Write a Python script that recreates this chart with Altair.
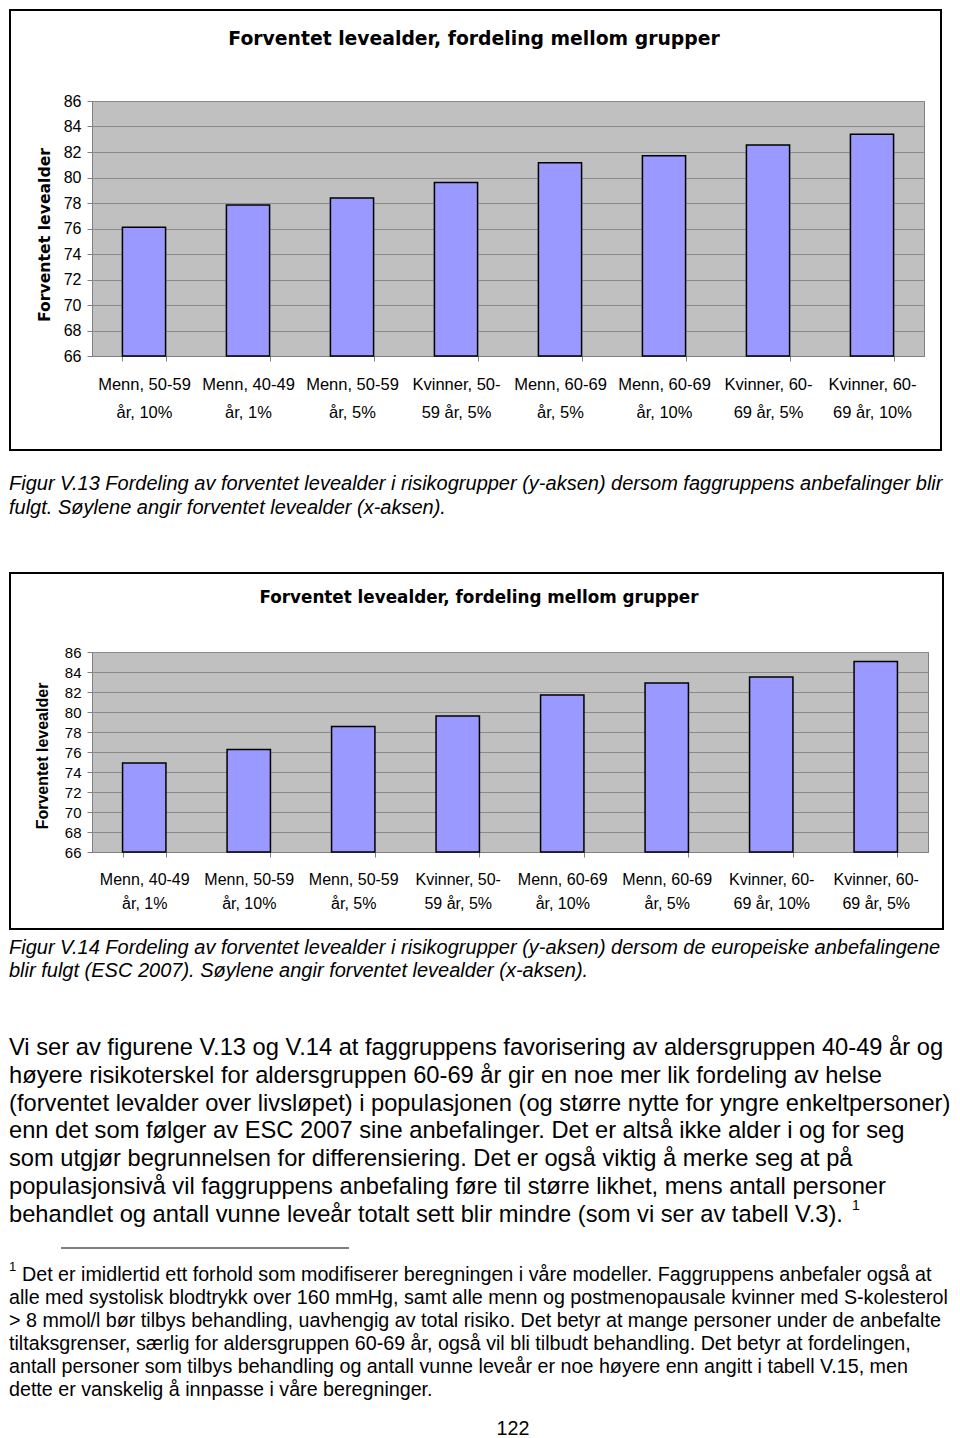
import altair as alt
import pandas as pd

# ---------------- data ----------------
cats1 = ["Menn, 50-59|år, 10%", "Menn, 40-49|år, 1%", "Menn, 50-59|år, 5%", "Kvinner, 50-|59 år, 5%",
         "Menn, 60-69|år, 5%", "Menn, 60-69|år, 10%", "Kvinner, 60-|69 år, 5%", "Kvinner, 60-|69 år, 10%"]
vals1 = [76.1, 77.85, 78.4, 79.6, 81.15, 81.7, 82.55, 83.4]

cats2 = ["Menn, 40-49|år, 1%", "Menn, 50-59|år, 10%", "Menn, 50-59|år, 5%", "Kvinner, 50-|59 år, 5%",
         "Menn, 60-69|år, 10%", "Menn, 60-69|år, 5%", "Kvinner, 60-|69 år, 10%", "Kvinner, 60-|69 år, 5%"]
vals2 = [74.9, 76.25, 78.55, 79.6, 81.7, 82.9, 83.5, 85.05]

y_ticks = [66, 68, 70, 72, 74, 76, 78, 80, 82, 84, 86]

chart_title = "Forventet levealder, fordeling mellom grupper"
y_title = "Forventet levealder"

caption1 = ["Figur V.13 Fordeling av forventet levealder i risikogrupper (y-aksen) dersom faggruppens anbefalinger blir",
            "fulgt. Søylene angir forventet levealder (x-aksen)."]
caption2 = ["Figur V.14 Fordeling av forventet levealder i risikogrupper (y-aksen) dersom de europeiske anbefalingene",
            "blir fulgt (ESC 2007). Søylene angir forventet levealder (x-aksen)."]
body = ["Vi ser av figurene V.13 og V.14 at faggruppens favorisering av aldersgruppen 40-49 år og",
        "høyere risikoterskel for aldersgruppen 60-69 år gir en noe mer lik fordeling av helse",
        "(forventet levalder over livsløpet) i populasjonen (og større nytte for yngre enkeltpersoner)",
        "enn det som følger av ESC 2007 sine anbefalinger. Det er altså ikke alder i og for seg",
        "som utgjør begrunnelsen for differensiering. Det er også viktig å merke seg at på",
        "populasjonsivå vil faggruppens anbefaling føre til større likhet, mens antall personer",
        "behandlet og antall vunne leveår totalt sett blir mindre (som vi ser av tabell V.3)."]
foot_first = ["Det er imidlertid ett forhold som modifiserer beregningen i våre modeller. Faggruppens anbefaler også at"]
foot_rest = ["alle med systolisk blodtrykk over 160 mmHg, samt alle menn og postmenopausale kvinner med S-kolesterol",
             "> 8 mmol/l bør tilbys behandling, uavhengig av total risiko. Det betyr at mange personer under de anbefalte",
             "tiltaksgrenser, særlig for aldersgruppen 60-69 år, også vil bli tilbudt behandling. Det betyr at fordelingen,",
             "antall personer som tilbys behandling og antall vunne leveår er noe høyere enn angitt i tabell V.15, men",
             "dette er vanskelig å innpasse i våre beregninger."]
note_mark = ["1"]
page_no = ["122"]

one = pd.DataFrame({"k": [0]})
GRID = "#8a8a8a"
AX = "#808080"


def text_block(lines, x, y, size, lh=20, font="Liberation Sans", style="normal", weight="normal",
               align="left", angle=0):
    df = pd.DataFrame({"t": ["\n".join(lines)]})
    return alt.Chart(df).mark_text(
        align=align, baseline="alphabetic", lineBreak="\n", lineHeight=lh, font=font,
        fontSize=size, fontStyle=style, fontWeight=weight, color="black", angle=angle
    ).encode(x=alt.value(x), y=alt.value(y), text="t:N")


def bars(cats, vals, xlab_size, xlab_lh, xlab_pad, ylab_size):
    df = pd.DataFrame({"gruppe": cats, "levealder": vals})
    return alt.Chart(df).mark_bar(fill="#9999FF", stroke="black", strokeWidth=1.5).encode(
        x=alt.X("gruppe:N", sort=cats,
                scale=alt.Scale(paddingInner=0.585, paddingOuter=0.2925),
                axis=alt.Axis(title=None, labelExpr="split(datum.label, '|')", labelAngle=0,
                              labelFont="Liberation Sans", labelFontSize=xlab_size, labelColor="black",
                              labelLineHeight=xlab_lh, labelPadding=xlab_pad, labelBaseline="top",
                              tickBand="extent", tickSize=5, tickColor=AX, domainColor=AX,
                              grid=False, labelLimit=300)),
        y=alt.Y("levealder:Q",
                scale=alt.Scale(domain=[66, 86], nice=False, zero=False),
                axis=alt.Axis(title=None, values=y_ticks, labelFont="Liberation Sans",
                              labelFontSize=ylab_size, labelColor="black", labelPadding=6,
                              tickSize=5, tickColor=AX, domainColor=AX, gridColor=GRID,
                              gridWidth=1)),
        y2=alt.datum(66),
    )


def frame(x1, x2, y1, y2):
    return alt.Chart(one).mark_rect(fillOpacity=0, stroke="black", strokeWidth=2).encode(
        x=alt.value(x1), x2=alt.value(x2), y=alt.value(y1), y2=alt.value(y2))


# ---------------- panel 1 (plot origin at page 91,100) ----------------
p1 = alt.layer(
    bars(cats1, vals1, 16.5, 28, 15, 16),
    frame(-82, 849, -91, 349),
    text_block([chart_title], 382, -56, 18.8, font="DejaVu Sans", weight="bold", align="center"),
    text_block([y_title], -42, 134, 15.7, font="DejaVu Sans", weight="bold", align="center", angle=270),
    text_block(caption1, -83, 389, 20, lh=24, style="italic"),
).properties(width=832, height=255)

# ---------------- panel 2 (plot origin at page 91,651) ----------------
rule = alt.Chart(one).mark_rule(color="black", strokeWidth=1).encode(
    x=alt.value(-31), x2=alt.value(257), y=alt.value(596))

p2 = alt.layer(
    bars(cats2, vals2, 16, 24, 14, 15),
    frame(-82, 851, -79, 277),
    text_block([chart_title], 387, -49, 16.8, font="DejaVu Sans", weight="bold", align="center"),
    text_block([y_title], -44, 104, 16, weight="bold", align="center", angle=270),
    text_block(caption2, -83, 302, 20, lh=23, style="italic"),
    text_block(body, -83, 403, 23.7, lh=27.8),
    text_block(note_mark, 760, 558, 14),
    rule,
    text_block(note_mark, -83, 619, 13),
    text_block(foot_first, -70, 629, 19.7, lh=23),
    text_block(foot_rest, -83, 652, 19.7, lh=23),
    text_block(page_no, 421, 783, 19.7, align="center"),
).properties(width=836, height=200)

chart = alt.vconcat(p1, p2, spacing=296, bounds="flush").configure_view(
    fill="#C0C0C0", stroke=AX, strokeWidth=1
).properties(padding=0, background="white")

chart.save("out.html", embed_options={"renderer": "svg", "actions": False})
